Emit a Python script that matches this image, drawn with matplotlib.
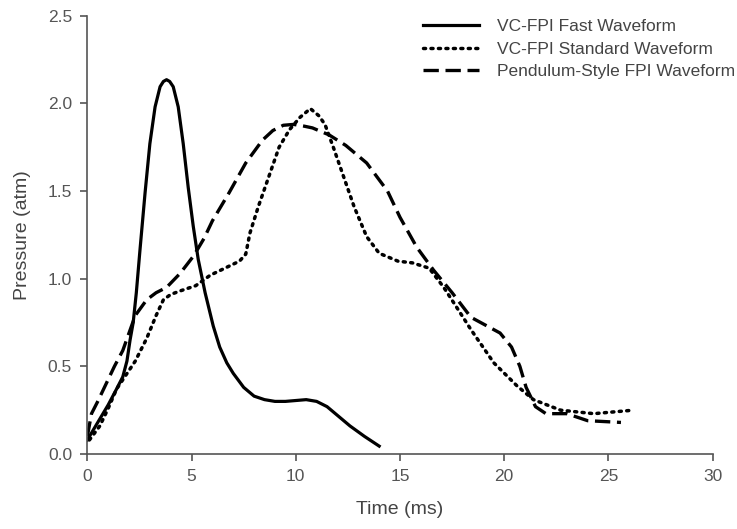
import numpy as np
import matplotlib.pyplot as plt

plt.rcParams['font.family'] = ['Liberation Sans', 'DejaVu Sans']

# VC-FPI fast waveform
fast_t = [0.0, 0.5, 1.0, 1.4, 1.7, 1.9, 2.05, 2.2, 2.35, 2.53, 2.77, 3.0, 3.25, 3.49, 3.65, 3.8,
          3.95, 4.12, 4.36, 4.6, 4.84, 5.08, 5.32, 5.65, 6.04, 6.35, 6.69, 7.0, 7.5, 8.0, 8.5,
          9.0, 9.5, 10.0, 10.5, 11.0, 11.5, 12.0, 12.6, 13.3, 14.0]
fast_p = [0.08, 0.18, 0.28, 0.37, 0.44, 0.53, 0.65, 0.75, 0.92, 1.17, 1.49, 1.77, 1.98, 2.095, 2.125, 2.135,
          2.125, 2.095, 1.98, 1.77, 1.52, 1.30, 1.11, 0.92, 0.73, 0.61, 0.52, 0.46, 0.38, 0.33, 0.31,
          0.30, 0.30, 0.305, 0.31, 0.30, 0.27, 0.22, 0.16, 0.10, 0.045]

# VC-FPI standard waveform
std_t = [0.1, 0.6, 1.0, 1.4, 1.85, 2.3, 2.85, 3.3, 3.65, 4.0, 4.45, 5.2, 5.9, 6.6, 7.3, 7.6,
         7.8, 8.2, 8.7, 9.2, 9.7, 10.2, 10.7, 11.1, 11.4, 11.8, 12.3, 12.8, 13.4, 14.0, 14.9,
         15.6, 16.4, 17.1, 17.7, 18.4, 19.5, 20.6, 21.4, 22.7, 24.3, 26.2]
std_p = [0.08, 0.16, 0.26, 0.37, 0.45, 0.53, 0.66, 0.79, 0.88, 0.91, 0.93, 0.96, 1.02, 1.06, 1.10, 1.14,
         1.26, 1.41, 1.58, 1.75, 1.85, 1.92, 1.97, 1.93, 1.88, 1.75, 1.58, 1.41, 1.24, 1.145, 1.10,
         1.09, 1.06, 0.95, 0.84, 0.71, 0.52, 0.39, 0.31, 0.25, 0.23, 0.25]

# Pendulum-style FPI waveform
pend_t = [0.0, 0.2, 0.5, 0.9, 1.3, 1.7, 2.3, 2.85, 3.3, 3.8, 4.45, 5.1, 5.6, 6.0, 6.8, 7.6,
          8.4, 8.9, 9.4, 9.9, 10.4, 10.8, 11.6, 12.4, 13.4, 14.4, 15.0, 15.8, 16.6, 17.5, 18.4, 19.8,
          20.35, 20.75, 21.05, 21.5, 22.0, 23.0, 24.0, 25.6]
pend_p = [0.10, 0.23, 0.30, 0.40, 0.50, 0.59, 0.79, 0.88, 0.92, 0.95, 1.03, 1.13, 1.23, 1.33, 1.49, 1.66,
          1.79, 1.845, 1.875, 1.88, 1.87, 1.86, 1.82, 1.76, 1.66, 1.50, 1.35, 1.18, 1.05, 0.92, 0.78, 0.69,
          0.61, 0.50, 0.38, 0.27, 0.23, 0.23, 0.19, 0.18]

fig = plt.figure(figsize=(7.37, 5.29), dpi=100)
ax = fig.add_axes([0.1185, 0.1418, 0.8485, 0.8285])

ax.plot(fast_t, fast_p, color='black', lw=2.3, ls='-', label='VC-FPI Fast Waveform')
ax.plot(std_t, std_p, color='black', lw=2.5, ls=(0, (0.6, 1.55)), dash_capstyle='round',
        label='VC-FPI Standard Waveform')
ax.plot(pend_t, pend_p, color='black', lw=2.4, ls=(0, (4.6, 2.0)), label='Pendulum-Style FPI Waveform')

ax.set_xlim(0, 30)
ax.set_ylim(0, 2.5)
ax.set_xticks([0, 5, 10, 15, 20, 25, 30])
ax.set_yticks([0.0, 0.5, 1.0, 1.5, 2.0, 2.5])
ax.set_yticklabels(['0.0', '0.5', '1.0', '1.5', '2.0', '2.5'])

grey = '#555555'
for side in ['top', 'right']:
    ax.spines[side].set_visible(False)
for side in ['left', 'bottom']:
    ax.spines[side].set_color(grey)
    ax.spines[side].set_linewidth(1.2)
ax.tick_params(direction='out', length=5, width=1.2, color=grey, labelcolor=grey,
               labelsize=12.5, pad=6)

ax.set_xlabel('Time (ms)', fontsize=14, color='#444444', labelpad=12)
ax.set_ylabel('Pressure (atm)', fontsize=14, color='#444444', labelpad=12)

leg = fig.legend(loc='upper left', bbox_to_anchor=(423 / 737, 1 - 19 / 529), frameon=False,
                 fontsize=12.5, handlelength=3.2, handletextpad=1.05, labelspacing=0.42,
                 borderpad=0, borderaxespad=0, labelcolor='#444444')

fig.savefig('out.png', dpi=100)
